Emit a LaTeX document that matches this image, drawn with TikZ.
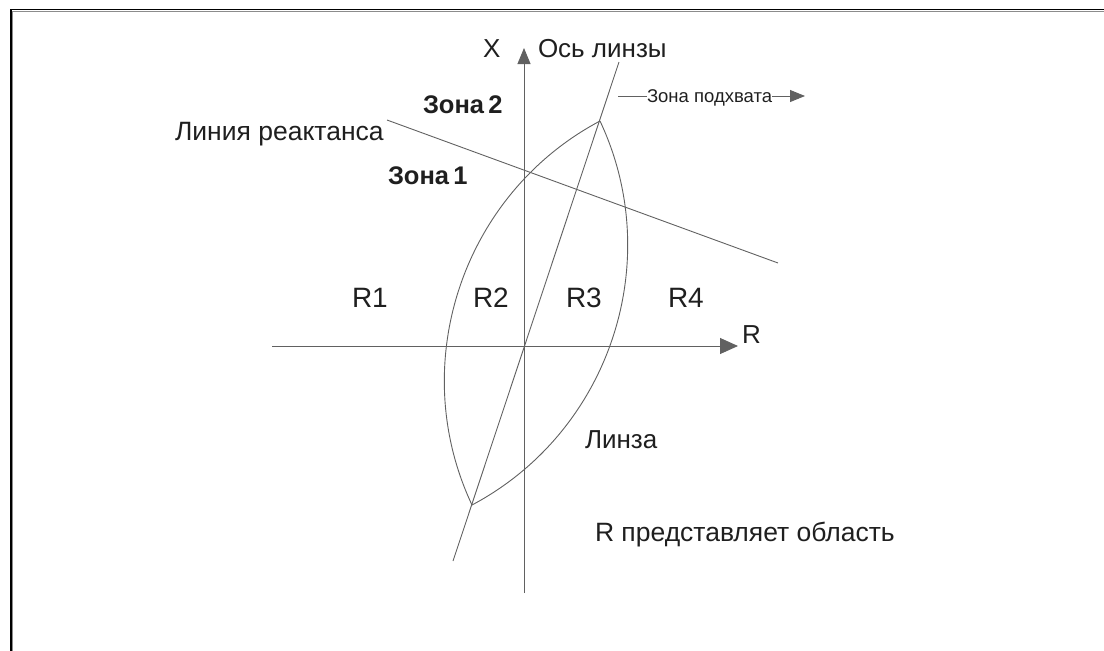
\documentclass[tikz,border=0pt]{standalone}
\usepackage{fontspec}
\setmainfont{Liberation Sans}
\usetikzlibrary{arrows.meta}
\begin{document}
\begin{tikzpicture}[x=1pt,y=-1pt,
  ln/.style={draw=black!62, line width=0.9pt},
  lbl/.style={anchor=base west, inner sep=0pt, outer sep=0pt, text=black!88},
  big/.style={font=\fontsize{28}{32}\selectfont},
  mid/.style={font=\fontsize{26.5}{30}\selectfont},
  sml/.style={font=\fontsize{26}{30}\selectfont},
  tiny/.style={font=\fontsize{18.5}{22}\selectfont},
  bld/.style={font=\fontsize{25.5}{30}\selectfont\bfseries}]
\useasboundingbox (0,0) rectangle (1104,651);
% frame
\draw[black!45, line width=1pt] (12.5,651) -- (12.5,11) -- (1104,11);
\draw[black, line width=1.8pt] (11,651) -- (11,9.5) -- (1104,9.5);
% coordinates
\coordinate (O) at (524,346);
\coordinate (xL) at (272,346);
\coordinate (xR) at (738,346);
\coordinate (yB) at (524,593);
\coordinate (yT) at (524,48);
\coordinate (aT) at (619,62);
\coordinate (aB) at (453,561);
\coordinate (lT) at (600,121);
\coordinate (lB) at (472,505);
\coordinate (rL) at (387,120);
\coordinate (rR) at (778,263);
\coordinate (zpL) at (618,96);
\coordinate (zpR) at (805,96);
% axes
\draw[ln, -{Triangle[length=18pt,width=16pt]}] (xL) -- (xR);
\draw[ln, -{Triangle[length=16pt,width=13pt]}] (yB) -- (yT);
% lens axis
\draw[ln] (aB) -- (aT);
% reactance line
\draw[ln] (rL) -- (rR);
% lens
\draw[ln] (lB) .. controls (405.7,364.1) and (462.4,194.0) .. (lT);
\draw[ln] (lB) .. controls (609.6,432.0) and (666.3,261.9) .. (lT);
% labels
\node[lbl, sml] (xlab) at (483,57) {X};
\node[lbl, sml] (axlab) at (538,57) {Ось линзы};
\node[lbl, tiny] (zp) at (647,102) {Зона подхвата};
\draw[ln] (zpL) -- (zp.west |- zpL);
\draw[ln, -{Triangle[length=15pt,width=12pt]}] (zp.east |- zpR) -- (zpR);
\node[lbl, mid] (react) at (175,140) {Линия реактанса};
\node[lbl, bld] (z2) at (423,113) {Зона\,2};
\node[lbl, bld] (z1) at (388,184) {Зона\,1};
\node[lbl, big] (r1) at (352,307) {R1};
\node[lbl, big] (r2) at (473,307) {R2};
\node[lbl, big] (r3) at (566,307) {R3};
\node[lbl, big] (r4) at (668,307) {R4};
\node[lbl, sml] (rlab) at (742,343) {R};
\node[lbl, sml] (lens) at (585,448) {Линза};
\node[lbl, mid] (note) at (595,541) {R представляет область};
\end{tikzpicture}
\end{document}
